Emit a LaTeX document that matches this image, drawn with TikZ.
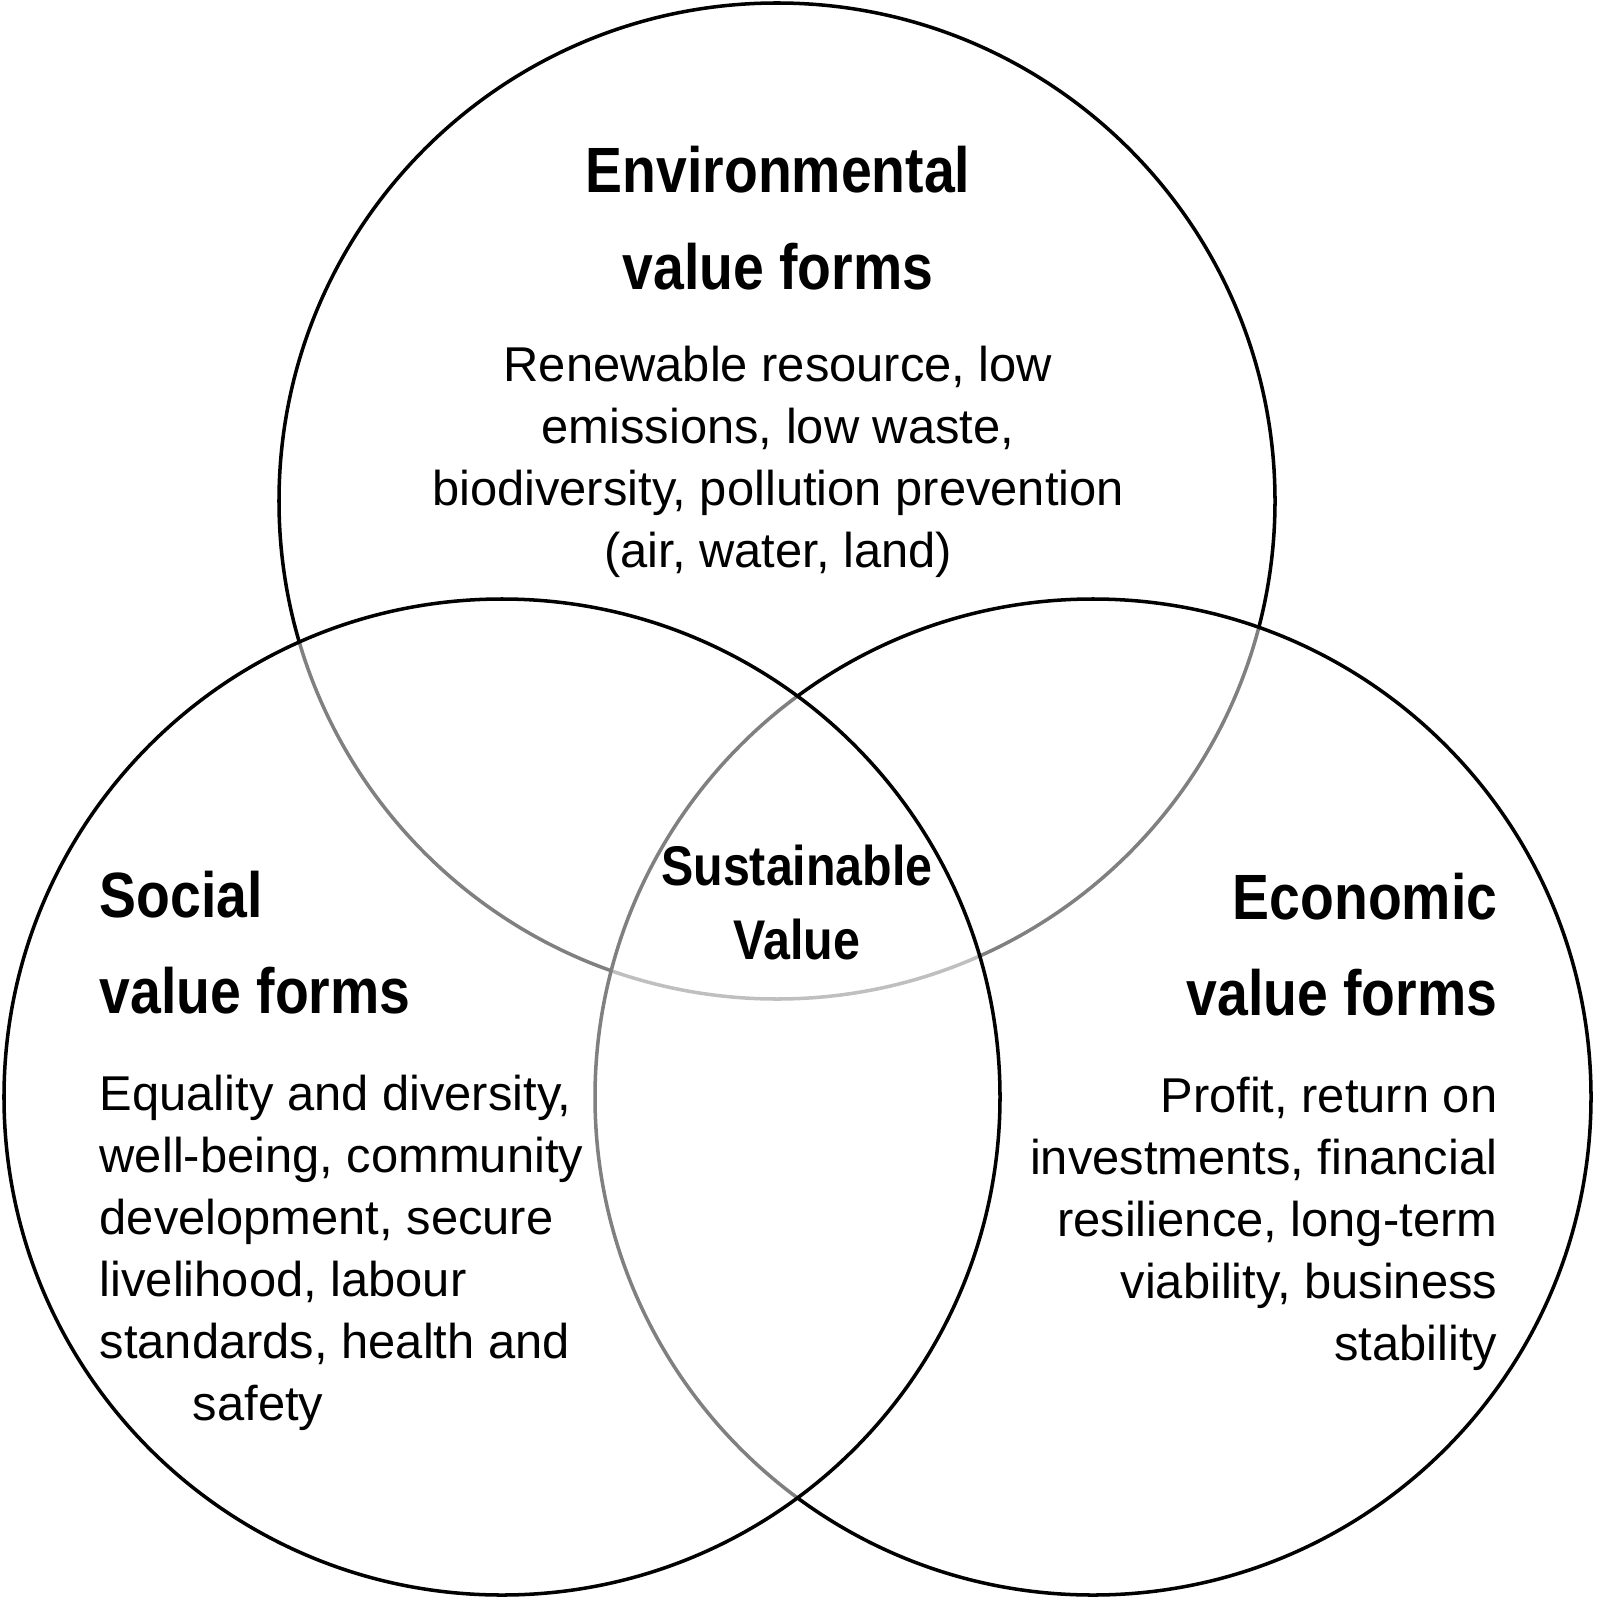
\documentclass[tikz,border=0pt]{standalone}
\usepackage{fontspec}
\setmainfont{Liberation Sans}
\newfontfamily\headfont[FakeStretch=0.865]{Liberation Sans}

\begin{document}
\begin{tikzpicture}[x=0.01cm, y=-0.01cm,
    ring/.style={draw=black, line width=1pt, fill=white, fill opacity=0.5},
    head/.style={font=\headfont\bfseries\fontsize{18.2pt}{27.3pt}\selectfont, inner sep=0pt},
    body/.style={font=\fontsize{13.9pt}{17.6pt}\selectfont, inner sep=0pt},
    hub/.style={font=\headfont\bfseries\fontsize{15.9pt}{20.9pt}\selectfont, inner sep=0pt}]
  \fill[white] (0,0) rectangle (1597,1600);
  \useasboundingbox (0,0) rectangle (1597,1600);
  % circles, back to front
  \draw[ring] (777,501) circle[radius=498];
  \draw[ring] (1093,1097) circle[radius=498];
  \draw[ring] (502,1097) circle[radius=498];
  % environmental
  \node[head, anchor=base, align=center] (envhead) at (778,289)
    {Environmental\\value forms};
  \node[body, anchor=base, align=center] (envtext) at (778,567)
    {Renewable resource, low\\emissions, low waste,\\biodiversity, pollution prevention\\(air, water, land)};
  % social
  \node[head, anchor=base west, align=left] (sochead) at (99,1013)
    {Social\\value forms};
  \node[body, anchor=base west, align=left] (soctext) at (99,1420)
    {Equality and diversity,\\well-being, community\\development, secure\\livelihood, labour\\standards, health and\\\hspace*{26.5pt}safety};
  % economic
  \node[head, anchor=base east, align=right] (echead) at (1498,1015)
    {Economic\\value forms};
  \node[body, anchor=base east, align=right] (ectext) at (1498,1360)
    {Profit, return on\\investments, financial\\resilience, long-term\\viability, business\\stability};
  % centre
  \node[hub, anchor=base, align=center] (core) at (797,959)
    {Sustainable\\Value};
\end{tikzpicture}
\end{document}
